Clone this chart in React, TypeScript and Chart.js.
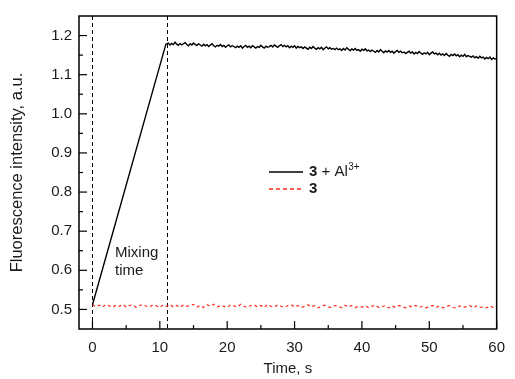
import React, { useEffect, useRef } from "react";
import { Chart, registerables } from "chart.js";

Chart.register(...registerables);

const xTicks = [0, 10, 20, 30, 40, 50, 60];
const xMinorTicks = [5, 15, 25, 35, 45, 55];
const yTicks = [0.5, 0.6, 0.7, 0.8, 0.9, 1.0, 1.1, 1.2];
const yMinorTicks = [0.55, 0.65, 0.75, 0.85, 0.95, 1.05, 1.15];
const mixingMarks = [0, 11];

const complexTime = [
  0, 10.9,
  11.25, 11.5, 11.75, 12, 12.25, 12.5, 12.75, 13, 13.25, 13.5, 13.75, 14, 14.25, 14.5, 14.75, 15, 15.25, 15.5, 15.75, 16,
  16.25, 16.5, 16.75, 17, 17.25, 17.5, 17.75, 18, 18.25, 18.5, 18.75, 19, 19.25, 19.5, 19.75, 20, 20.25, 20.5, 20.75, 21,
  21.25, 21.5, 21.75, 22, 22.25, 22.5, 22.75, 23, 23.25, 23.5, 23.75, 24, 24.25, 24.5, 24.75, 25, 25.25, 25.5, 25.75, 26,
  26.25, 26.5, 26.75, 27, 27.25, 27.5, 27.75, 28, 28.25, 28.5, 28.75, 29, 29.25, 29.5, 29.75, 30, 30.25, 30.5, 30.75, 31,
  31.25, 31.5, 31.75, 32, 32.25, 32.5, 32.75, 33, 33.25, 33.5, 33.75, 34, 34.25, 34.5, 34.75, 35, 35.25, 35.5, 35.75, 36,
  36.25, 36.5, 36.75, 37, 37.25, 37.5, 37.75, 38, 38.25, 38.5, 38.75, 39, 39.25, 39.5, 39.75, 40, 40.25, 40.5, 40.75, 41,
  41.25, 41.5, 41.75, 42, 42.25, 42.5, 42.75, 43, 43.25, 43.5, 43.75, 44, 44.25, 44.5, 44.75, 45, 45.25, 45.5, 45.75, 46,
  46.25, 46.5, 46.75, 47, 47.25, 47.5, 47.75, 48, 48.25, 48.5, 48.75, 49, 49.25, 49.5, 49.75, 50, 50.25, 50.5, 50.75, 51,
  51.25, 51.5, 51.75, 52, 52.25, 52.5, 52.75, 53, 53.25, 53.5, 53.75, 54, 54.25, 54.5, 54.75, 55, 55.25, 55.5, 55.75, 56,
  56.25, 56.5, 56.75, 57, 57.25, 57.5, 57.75, 58, 58.25, 58.5, 58.75, 59, 59.25, 59.5, 59.75, 60,
];
const complexValues = [
  0.512, 1.178,
  1.181, 1.176, 1.180, 1.177, 1.183, 1.178, 1.175, 1.180, 1.176, 1.179, 1.182, 1.177, 1.174, 1.179, 1.176, 1.181, 1.177, 1.175, 1.179, 1.176,
  1.173, 1.178, 1.174, 1.177, 1.172, 1.176, 1.179, 1.174, 1.171, 1.175, 1.173, 1.177, 1.172, 1.175, 1.170, 1.174, 1.176, 1.171, 1.174, 1.172,
  1.169, 1.173, 1.170, 1.174, 1.168, 1.172, 1.175, 1.170, 1.173, 1.169, 1.174, 1.171, 1.168, 1.172, 1.170, 1.175, 1.171, 1.168, 1.173, 1.170,
  1.172, 1.175, 1.171, 1.176, 1.173, 1.170, 1.174, 1.177, 1.172, 1.175, 1.171, 1.174, 1.169, 1.173, 1.170, 1.174, 1.168, 1.172, 1.169, 1.171,
  1.167, 1.171, 1.168, 1.165, 1.170, 1.167, 1.172, 1.168, 1.165, 1.169, 1.166, 1.170, 1.164, 1.168, 1.171, 1.166, 1.169, 1.165, 1.167, 1.164,
  1.168, 1.164, 1.166, 1.162, 1.167, 1.163, 1.169, 1.165, 1.161, 1.166, 1.163, 1.167, 1.162, 1.164, 1.160, 1.165, 1.162, 1.166, 1.161, 1.163,
  1.159, 1.163, 1.160, 1.157, 1.162, 1.158, 1.164, 1.160, 1.156, 1.161, 1.158, 1.162, 1.157, 1.160, 1.155, 1.159, 1.162, 1.157, 1.160, 1.156,
  1.158, 1.154, 1.157, 1.160, 1.155, 1.158, 1.153, 1.157, 1.154, 1.159, 1.155, 1.152, 1.156, 1.153, 1.157, 1.151, 1.155, 1.158, 1.153, 1.155,
  1.151, 1.155, 1.150, 1.153, 1.149, 1.154, 1.150, 1.147, 1.152, 1.149, 1.153, 1.148, 1.151, 1.146, 1.150, 1.147, 1.152, 1.146, 1.149, 1.147,
  1.145, 1.148, 1.143, 1.146, 1.142, 1.147, 1.143, 1.145, 1.140, 1.144, 1.141, 1.145, 1.139, 1.143, 1.140, 1.141,
];

const ligandTime = [
  0, 0.5, 1, 1.5, 2, 2.5, 3, 3.5, 4, 4.5, 5, 5.5, 6, 6.5, 7, 7.5, 8, 8.5, 9, 9.5,
  10, 10.5, 11, 11.5, 12, 12.5, 13, 13.5, 14, 14.5, 15, 15.5, 16, 16.5, 17, 17.5, 18, 18.5, 19, 19.5,
  20, 20.5, 21, 21.5, 22, 22.5, 23, 23.5, 24, 24.5, 25, 25.5, 26, 26.5, 27, 27.5, 28, 28.5, 29, 29.5,
  30, 30.5, 31, 31.5, 32, 32.5, 33, 33.5, 34, 34.5, 35, 35.5, 36, 36.5, 37, 37.5, 38, 38.5, 39, 39.5,
  40, 40.5, 41, 41.5, 42, 42.5, 43, 43.5, 44, 44.5, 45, 45.5, 46, 46.5, 47, 47.5, 48, 48.5, 49, 49.5,
  50, 50.5, 51, 51.5, 52, 52.5, 53, 53.5, 54, 54.5, 55, 55.5, 56, 56.5, 57, 57.5, 58, 58.5, 59, 59.5,
  60,
];
const ligandValues = [
  0.512, 0.507, 0.511, 0.506, 0.513, 0.509, 0.505, 0.511, 0.508, 0.513,
  0.506, 0.510, 0.512, 0.505, 0.510, 0.513, 0.508, 0.506, 0.512, 0.509,
  0.505, 0.512, 0.508, 0.513, 0.506, 0.510, 0.505, 0.512, 0.508, 0.510,
  0.513, 0.506, 0.510, 0.505, 0.512, 0.508, 0.513, 0.506, 0.510, 0.508,
  0.505, 0.512, 0.509, 0.506, 0.513, 0.508, 0.505, 0.510, 0.512, 0.506,
  0.510, 0.505, 0.513, 0.508, 0.506, 0.512, 0.508, 0.505, 0.510, 0.512,
  0.506, 0.510, 0.505, 0.508, 0.512, 0.506, 0.510, 0.504, 0.508, 0.511,
  0.506, 0.505, 0.510, 0.508, 0.504, 0.511, 0.506, 0.510, 0.505, 0.508,
  0.506, 0.510, 0.504, 0.508, 0.511, 0.505, 0.507, 0.510, 0.504, 0.509,
  0.505, 0.510, 0.507, 0.504, 0.509, 0.506, 0.510, 0.505, 0.508, 0.504,
  0.507, 0.510, 0.505, 0.509, 0.504, 0.507, 0.510, 0.505, 0.504, 0.509,
  0.505, 0.507, 0.510, 0.504, 0.509, 0.505, 0.507, 0.504, 0.509, 0.505,
  0.507,
];

const FONT = "'Liberation Sans', Arial, sans-serif";
const TEXT = "#1a1a1a";
const RED = "#ff2a1a";

const decorPlugin = {
  id: "decor",
  beforeDatasetsDraw(chart: any) {
    const { ctx, chartArea: a, scales } = chart;
    const xs = scales.x;
    ctx.save();
    ctx.strokeStyle = "#000";
    ctx.lineWidth = 1;
    ctx.setLineDash([4, 3]);
    mixingMarks.forEach((v) => {
      const px = Math.round(xs.getPixelForValue(v)) + 0.5;
      ctx.beginPath();
      ctx.moveTo(px, a.top);
      ctx.lineTo(px, a.bottom);
      ctx.stroke();
    });
    ctx.restore();
  },
  afterDraw(chart: any) {
    const { ctx, chartArea: a, scales } = chart;
    const xs = scales.x;
    const ys = scales.y;
    ctx.save();
    ctx.strokeStyle = "#000";
    ctx.lineWidth = 1.5;
    ctx.setLineDash([]);
    ctx.strokeRect(a.left, a.top, a.right - a.left, a.bottom - a.top);

    ctx.lineWidth = 1.2;
    const tick = (x1: number, y1: number, x2: number, y2: number) => {
      ctx.beginPath();
      ctx.moveTo(x1, y1);
      ctx.lineTo(x2, y2);
      ctx.stroke();
    };
    xTicks.forEach((v) => {
      const px = xs.getPixelForValue(v);
      tick(px, a.bottom, px, a.bottom - 8);
    });
    xMinorTicks.forEach((v) => {
      const px = xs.getPixelForValue(v);
      tick(px, a.bottom, px, a.bottom - 4);
    });
    yTicks.forEach((v) => {
      const py = ys.getPixelForValue(v);
      tick(a.left, py, a.left + 8, py);
    });
    yMinorTicks.forEach((v) => {
      const py = ys.getPixelForValue(v);
      tick(a.left, py, a.left + 4, py);
    });

    // legend
    const lx = a.left + 190;
    const ly1 = a.top + 156;
    const ly2 = a.top + 173;
    ctx.lineWidth = 1.3;
    ctx.strokeStyle = "#000";
    tick(lx, ly1, lx + 34, ly1);
    ctx.strokeStyle = RED;
    ctx.setLineDash([4, 3]);
    tick(lx, ly2, lx + 34, ly2);
    ctx.setLineDash([]);

    ctx.fillStyle = TEXT;
    ctx.textBaseline = "middle";
    ctx.textAlign = "left";
    let tx = lx + 40;
    ctx.font = `bold 15px ${FONT}`;
    ctx.fillText("3", tx, ly1);
    tx += ctx.measureText("3").width;
    ctx.font = `15px ${FONT}`;
    ctx.fillText(" + Al", tx, ly1);
    tx += ctx.measureText(" + Al").width;
    ctx.font = `10px ${FONT}`;
    ctx.fillText("3+", tx + 0.5, ly1 - 5);
    ctx.font = `bold 15px ${FONT}`;
    ctx.fillText("3", lx + 40, ly2);

    // mixing time label
    ctx.font = `15px ${FONT}`;
    ctx.fillText("Mixing", a.left + 36, a.top + 237);
    ctx.fillText("time", a.left + 36, a.top + 255);
    ctx.restore();
  },
};

export default function App() {
  const ref = useRef<HTMLCanvasElement | null>(null);

  useEffect(() => {
    document.body.style.margin = "0";
    const canvas = ref.current;
    if (!canvas) return;
    const chart = new Chart(canvas, {
      type: "line",
      data: {
        datasets: [
          {
            label: "3 + Al3+",
            data: complexTime.map((t, i) => ({ x: t, y: complexValues[i] })),
            borderColor: "#000",
            borderWidth: 1.4,
            pointRadius: 0,
            tension: 0,
            fill: false,
          },
          {
            label: "3",
            data: ligandTime.map((t, i) => ({ x: t, y: ligandValues[i] })),
            borderColor: RED,
            borderWidth: 1.2,
            borderDash: [3, 3],
            pointRadius: 0,
            tension: 0,
            fill: false,
          },
        ],
      },
      options: {
        animation: false,
        responsive: false,
        maintainAspectRatio: false,
        layout: { padding: { top: 11, right: 8, left: 0, bottom: 0 } },
        plugins: { legend: { display: false }, tooltip: { enabled: false } },
        scales: {
          x: {
            type: "linear",
            min: -2,
            max: 60,
            grid: { display: false, drawTicks: false },
            border: { display: false },
            afterBuildTicks: (s: any) => {
              s.ticks = xTicks.map((v) => ({ value: v }));
            },
            afterFit: (s: any) => {
              s.height = 50;
            },
            ticks: {
              padding: 10,
              color: TEXT,
              font: { family: FONT, size: 15 },
              callback: (v: any) => String(v),
            },
            title: {
              display: true,
              text: "Time, s",
              color: TEXT,
              font: { family: FONT, size: 15 },
              padding: { top: 0, bottom: 1 },
            },
          },
          y: {
            type: "linear",
            min: 0.45,
            max: 1.25,
            grid: { display: false, drawTicks: false },
            border: { display: false },
            afterBuildTicks: (s: any) => {
              s.ticks = yTicks.map((v) => ({ value: v }));
            },
            afterFit: (s: any) => {
              s.width = 79;
            },
            ticks: {
              padding: 7,
              color: TEXT,
              font: { family: FONT, size: 15 },
              callback: (v: any) => Number(v).toFixed(1),
            },
            title: {
              display: true,
              text: "Fluorescence intensity, a.u.",
              color: TEXT,
              font: { family: FONT, size: 16.5 },
              padding: { top: 8, bottom: 0 },
            },
          },
        },
      },
      plugins: [decorPlugin],
    });
    return () => chart.destroy();
  }, []);

  return (
    <div style={{ width: 515, height: 379, background: "#fff" }}>
      <canvas ref={ref} width={515} height={379} style={{ display: "block", width: 515, height: 379 }} />
    </div>
  );
}
